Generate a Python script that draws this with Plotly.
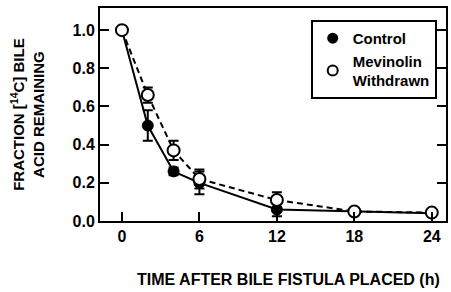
import plotly.graph_objects as go

hours = [0, 2, 4, 6, 12, 18, 24]
control = [1.0, 0.50, 0.26, 0.20, 0.06, 0.05, 0.04]
control_err = [0.0, 0.08, 0.02, 0.06, 0.035, 0.01, 0.01]
mevinolin = [1.0, 0.66, 0.37, 0.22, 0.11, 0.05, 0.044]
mevinolin_err = [0.0, 0.04, 0.05, 0.05, 0.04, 0.01, 0.01]
x_ticks = [0, 6, 12, 18, 24]
y_ticks = [0.0, 0.2, 0.4, 0.6, 0.8, 1.0]

FONT = "Liberation Sans"

fig = go.Figure()
fig.add_trace(go.Scatter(
    x=hours, y=control, mode="lines+markers",
    line=dict(color="black", width=2),
    marker=dict(symbol="circle", size=11, color="black", line=dict(color="black", width=1)),
    error_y=dict(type="data", array=control_err, color="black", thickness=2, width=5),
    showlegend=False, cliponaxis=False,
))
fig.add_trace(go.Scatter(
    x=hours, y=mevinolin, mode="lines+markers",
    line=dict(color="black", width=2, dash="6px,4px"),
    marker=dict(symbol="circle", size=12, color="white", line=dict(color="black", width=2)),
    error_y=dict(type="data", array=mevinolin_err, color="black", thickness=2, width=5),
    showlegend=False, cliponaxis=False,
))
# legend-only traces
fig.add_trace(go.Scatter(
    x=[None], y=[None], mode="markers", name="Control",
    marker=dict(symbol="circle", size=11, color="black"),
))
fig.add_trace(go.Scatter(
    x=[None], y=[None], mode="markers", name="Mevinolin<br>Withdrawn",
    marker=dict(symbol="circle", size=10, color="white", line=dict(color="black", width=2)),
))

fig.update_layout(
    width=451, height=292,
    margin=dict(l=100, r=3, t=8, b=71),
    paper_bgcolor="white", plot_bgcolor="white",
    font=dict(family=FONT, color="black"),
    legend=dict(
        x=0.609, y=0.944, xanchor="left", yanchor="top",
        bordercolor="black", borderwidth=2, bgcolor="white",
        font=dict(family=FONT, size=15, weight="bold", color="black"),
        itemwidth=30, tracegroupgap=0,
    ),
    xaxis=dict(
        range=[-1.7, 25.1], tickvals=x_ticks, ticktext=[str(v) for v in x_ticks],
        ticks="inside", ticklen=9, tickwidth=2, tickcolor="black",
        showline=True, linewidth=2, linecolor="black", mirror=True,
        showgrid=False, zeroline=False,
        tickfont=dict(family=FONT, size=16, weight="bold"),
    ),
    yaxis=dict(
        range=[0, 1.116], tickvals=y_ticks, ticktext=[f"{v:.1f}" for v in y_ticks],
        ticks="inside", ticklen=9, tickwidth=2, tickcolor="black",
        showline=True, linewidth=2, linecolor="black", mirror="ticks",
        showgrid=False, zeroline=False,
        tickfont=dict(family=FONT, size=16, weight="bold"),
    ),
    annotations=[
        dict(text="FRACTION [<sup>14</sup>C] BILE<br>ACID REMAINING",
             xref="paper", yref="paper", x=-0.21, y=0.5, textangle=-90,
             showarrow=False, xanchor="center", yanchor="middle",
             font=dict(family=FONT, size=15, weight="bold")),
        dict(text="TIME AFTER BILE FISTULA PLACED (h)",
             xref="paper", yref="paper", x=0.545, y=-0.275,
             showarrow=False, xanchor="center", yanchor="middle",
             font=dict(family=FONT, size=16, weight="bold")),
    ],
)

fig.write_html("out.html", config={"displayModeBar": False},
               post_script="document.body.style.margin='0';")
